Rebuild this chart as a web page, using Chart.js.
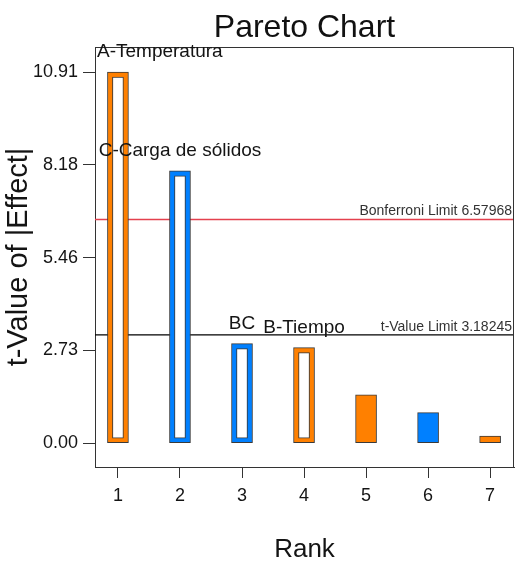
<!DOCTYPE html>
<html><head><meta charset="utf-8">
<script src="https://cdn.jsdelivr.net/npm/chart.js@4.4.1/dist/chart.umd.min.js"></script>
<style>html,body{margin:0;padding:0;background:#fff}canvas{display:block}</style>
</head><body>
<canvas id="c" width="515" height="564"></canvas>
<script>
// ---- data ----
const ranks = [1, 2, 3, 4, 5, 6, 7];
const tValues = [10.91, 8.01, 2.93, 2.81, 1.42, 0.90, 0.21];
const termLabels = ['A-Temperatura', 'C-Carga de sólidos', 'BC', 'B-Tiempo', '', '', ''];
const effectSign = ['+', '-', '-', '+', '+', '-', '+'];
const inModel = [true, true, true, true, false, false, false];
const yTickValues = [0, 2.7278, 5.4556, 8.1833, 10.9111];
const yTickLabels = ['0.00', '2.73', '5.46', '8.18', '10.91'];
const xTickValues = [1, 2, 3, 4, 5, 6, 7];
const bonferroniLimit = 6.57968;
const tValueLimit = 3.18245;

// ---- style ----
const X_MIN = 0.63, X_MAX = 7.385, Y_MIN = -0.7, Y_MAX = 11.65;
const INSET = 0.147;
const POS = '#FF8000', NEG = '#0080FF', EDGE = '#3a3a3a', TXT = '#141414';
const FONT = "'Liberation Sans', Arial, sans-serif";
Chart.defaults.font.family = FONT;
Chart.defaults.color = TXT;

const outerData = ranks.map((r, i) => ({x: r, y: tValues[i]}));
const innerData = ranks.filter((r, i) => inModel[i]).map(r => {
  const i = ranks.indexOf(r);
  return {x: r, y: [INSET, tValues[i] - INSET]};
});
const barColors = effectSign.map(s => s === '+' ? POS : NEG);

const overlay = {
  id: 'overlay',
  afterDraw(chart) {
    const {ctx, chartArea: a, scales: {y}} = chart;
    ctx.save();
    ctx.strokeStyle = '#333';
    ctx.lineWidth = 1;
    ctx.beginPath();
    ctx.moveTo(Math.round(a.left), Math.round(a.top) + 0.5);
    ctx.lineTo(Math.round(a.right) - 0.5, Math.round(a.top) + 0.5);
    ctx.lineTo(Math.round(a.right) - 0.5, Math.round(a.bottom));
    ctx.stroke();
    // limit labels
    ctx.fillStyle = '#333';
    ctx.font = '14px ' + FONT;
    ctx.textAlign = 'right';
    ctx.textBaseline = 'alphabetic';
    ctx.fillText('Bonferroni Limit ' + bonferroniLimit, a.right - 2, y.getPixelForValue(bonferroniLimit) - 4);
    ctx.fillText('t-Value Limit ' + tValueLimit, a.right - 2, y.getPixelForValue(tValueLimit) - 4);
    // term labels
    ctx.fillStyle = TXT;
    ctx.font = '19px ' + FONT;
    ctx.textAlign = 'left';
    const meta = chart.getDatasetMeta(0);
    termLabels.forEach((t, i) => {
      if (!t) return;
      const el = meta.data[i];
      const w = ctx.measureText(t).width;
      const left = Math.max(a.left + 2, el.x - w / 2);
      ctx.fillText(t, left, el.y - 15);
    });
    ctx.restore();
  }
};

new Chart(document.getElementById('c'), {
  type: 'bar',
  data: {
    datasets: [
      {data: outerData, backgroundColor: barColors, borderColor: EDGE, borderWidth: 1,
       borderSkipped: false, barThickness: 21, grouped: false, order: 3},
      {data: innerData, backgroundColor: '#ffffff', borderColor: EDGE, borderWidth: 1,
       borderSkipped: false, barThickness: 11, grouped: false, order: 2},
      {type: 'line', data: [{x: X_MIN, y: bonferroniLimit}, {x: X_MAX, y: bonferroniLimit}],
       borderColor: '#E4404E', borderWidth: 1.5, pointRadius: 0, order: 5},
      {type: 'line', data: [{x: X_MIN, y: tValueLimit}, {x: X_MAX, y: tValueLimit}],
       borderColor: '#000000', borderWidth: 1.2, pointRadius: 0, order: 5}
    ]
  },
  options: {
    responsive: false,
    animation: false,
    layout: {padding: {left: 0, right: 1, top: 0, bottom: 0}},
    plugins: {
      legend: {display: false},
      tooltip: {enabled: false},
      title: {display: true, text: 'Pareto Chart', fullSize: false, color: '#111',
        font: {size: 32, weight: 'normal', lineHeight: 1}, padding: {top: 12, bottom: 3}}
    },
    scales: {
      x: {
        type: 'linear', position: 'bottom', min: X_MIN, max: X_MAX, offset: false,
        afterBuildTicks: s => { s.ticks = xTickValues.map(v => ({value: v})); },
        afterFit: s => { s.height = 97; },
        ticks: {callback: v => String(v), font: {size: 18}, color: TXT, padding: 7, autoSkip: false, maxRotation: 0},
        grid: {drawOnChartArea: false, offset: false, tickLength: 11, color: '#333'},
        border: {color: '#333', width: 1},
        title: {display: true, text: 'Rank', color: TXT, font: {size: 26, lineHeight: 1}, padding: {top: 0, bottom: 1}}
      },
      y: {
        type: 'linear', position: 'left', min: Y_MIN, max: Y_MAX,
        afterBuildTicks: s => { s.ticks = yTickValues.map(v => ({value: v})); },
        afterFit: s => { s.width = 95; },
        ticks: {callback: (v, i) => yTickLabels[i], font: {size: 18}, color: TXT, padding: 5},
        grid: {drawOnChartArea: false, tickLength: 12, color: '#333'},
        border: {color: '#333', width: 1},
        title: {display: true, text: 't-Value of |Effect|', color: TXT, font: {size: 29, lineHeight: 1}, padding: {top: 4, bottom: 0}}
      }
    }
  },
  plugins: [overlay]
});
</script>
</body></html>
